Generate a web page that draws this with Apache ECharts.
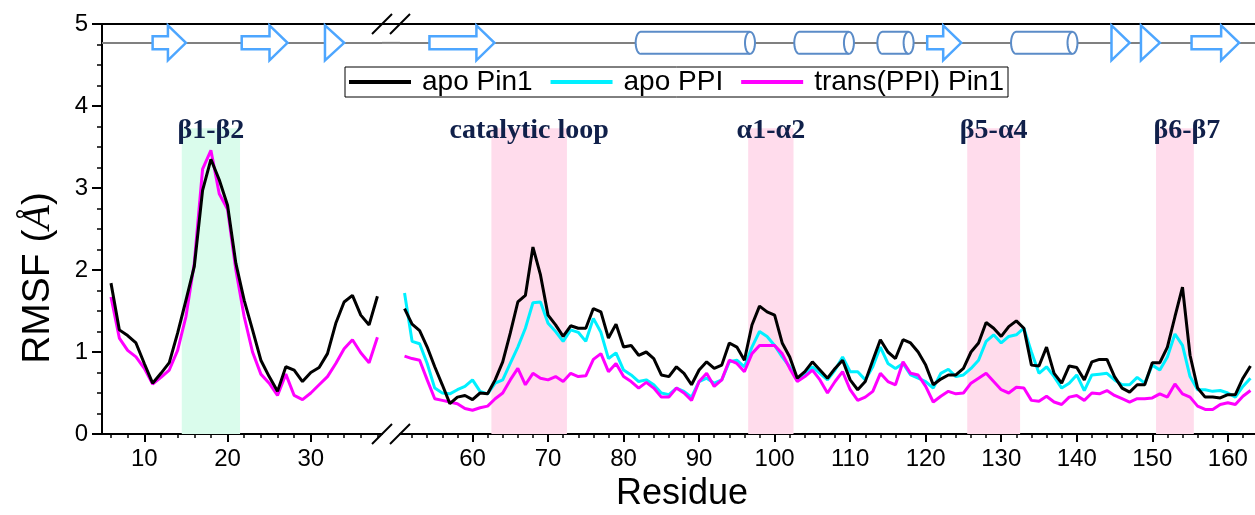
<!DOCTYPE html>
<html>
<head>
    <meta charset="utf-8">
    <title>RMSF</title>
    <script src="https://cdn.jsdelivr.net/npm/echarts@6.0.0/dist/echarts.min.js"></script>
</head>
<body style="margin: 0; background: #fff">
<div id="chart1" style="width:1255px;height:515px"></div>
<script type="text/javascript">
    // first residue of each panel (x axis is broken between them)
    var leftFirst = 6;
    var rightFirst = 51;

    // RMSF values, one per residue
    var pin1Left = [1.84, 1.27, 1.20, 1.11, 0.86, 0.62, 0.74, 0.87, 1.23, 1.63, 2.04, 2.97, 3.35, 3.10, 2.79, 2.08,
        1.63, 1.27, 0.90, 0.70, 0.52, 0.82, 0.78, 0.64, 0.75, 0.81, 0.98, 1.35, 1.61, 1.69, 1.45, 1.33, 1.68];
    var transLeft = [1.67, 1.17, 1.02, 0.94, 0.80, 0.61, 0.69, 0.78, 1.02, 1.43, 2.08, 3.23, 3.46, 2.93, 2.74, 2.00,
        1.43, 1.00, 0.73, 0.62, 0.47, 0.73, 0.47, 0.42, 0.50, 0.60, 0.70, 0.86, 1.04, 1.15, 0.99, 0.87, 1.18];

    var pin1Right = [1.53, 1.34, 1.26, 1.06, 0.82, 0.60, 0.37, 0.45, 0.47, 0.42, 0.50, 0.49, 0.66, 0.88, 1.23, 1.61,
        1.69, 2.28, 1.94, 1.45, 1.33, 1.19, 1.32, 1.29, 1.29, 1.53, 1.49, 1.17, 1.34, 1.06, 1.08, 0.96, 1.00, 0.92,
        0.72, 0.70, 0.82, 0.74, 0.60, 0.78, 0.88, 0.80, 0.84, 1.11, 1.06, 0.90, 1.33, 1.56, 1.49, 1.45, 1.11, 0.94,
        0.68, 0.76, 0.88, 0.78, 0.68, 0.80, 0.90, 0.66, 0.54, 0.64, 0.90, 1.15, 1.00, 0.92, 1.15, 1.11, 1.00, 0.84,
        0.60, 0.67, 0.72, 0.72, 0.80, 1.00, 1.11, 1.36, 1.29, 1.19, 1.31, 1.38, 1.29, 0.84, 0.83, 1.06, 0.74, 0.62,
        0.83, 0.81, 0.66, 0.88, 0.91, 0.91, 0.70, 0.56, 0.51, 0.60, 0.60, 0.87, 0.87, 1.06, 1.43, 1.79, 0.96, 0.56,
        0.45, 0.45, 0.44, 0.48, 0.48, 0.68, 0.83];
    var ppiRight = [1.72, 1.13, 1.10, 0.86, 0.56, 0.50, 0.49, 0.54, 0.58, 0.66, 0.52, 0.49, 0.62, 0.66, 0.86, 1.06,
        1.29, 1.60, 1.61, 1.35, 1.25, 1.13, 1.27, 1.24, 1.13, 1.41, 1.24, 0.92, 0.99, 0.78, 0.72, 0.64, 0.66, 0.60,
        0.50, 0.48, 0.56, 0.52, 0.45, 0.64, 0.68, 0.62, 0.66, 0.88, 0.90, 0.82, 1.06, 1.25, 1.19, 1.08, 0.94, 0.82,
        0.66, 0.72, 0.82, 0.74, 0.66, 0.78, 0.94, 0.76, 0.76, 0.66, 0.82, 1.06, 0.86, 0.80, 0.86, 0.72, 0.68, 0.64,
        0.56, 0.74, 0.79, 0.70, 0.72, 0.80, 0.90, 1.13, 1.21, 1.11, 1.19, 1.21, 1.29, 1.00, 0.74, 0.82, 0.70, 0.56,
        0.62, 0.72, 0.53, 0.72, 0.73, 0.74, 0.66, 0.60, 0.60, 0.69, 0.62, 0.84, 0.78, 0.94, 1.22, 1.08, 0.70, 0.54,
        0.54, 0.52, 0.53, 0.50, 0.45, 0.58, 0.68];
    var transRight = [0.95, 0.92, 0.90, 0.66, 0.43, 0.41, 0.39, 0.37, 0.31, 0.29, 0.32, 0.34, 0.43, 0.50, 0.66, 0.80,
        0.60, 0.74, 0.68, 0.66, 0.70, 0.64, 0.74, 0.70, 0.71, 0.91, 0.98, 0.76, 0.86, 0.70, 0.64, 0.56, 0.63, 0.56,
        0.45, 0.45, 0.56, 0.50, 0.41, 0.64, 0.74, 0.58, 0.66, 0.90, 0.86, 0.76, 0.98, 1.08, 1.08, 1.08, 0.98, 0.80,
        0.64, 0.70, 0.78, 0.66, 0.50, 0.64, 0.76, 0.54, 0.41, 0.45, 0.52, 0.74, 0.64, 0.60, 0.88, 0.74, 0.72, 0.58,
        0.39, 0.46, 0.52, 0.49, 0.50, 0.62, 0.68, 0.74, 0.64, 0.54, 0.50, 0.57, 0.56, 0.41, 0.40, 0.46, 0.39, 0.36,
        0.45, 0.47, 0.41, 0.50, 0.49, 0.53, 0.47, 0.43, 0.39, 0.43, 0.43, 0.44, 0.49, 0.45, 0.61, 0.49, 0.45, 0.34,
        0.30, 0.30, 0.36, 0.38, 0.36, 0.46, 0.53];

    // tick labels
    var leftTicks = [10, 20, 30];
    var rightTicks = [60, 70, 80, 90, 100, 110, 120, 130, 140, 150, 160];

    // highlighted regions
    var bandNames = ['β1-β2', 'catalytic loop', 'α1-α2', 'β5-α4', 'β6-β7'];
    var bandFrom = [14.5, 62.5, 96.5, 125.5, 150.5];
    var bandTo = [21.5, 72.5, 102.5, 132.5, 155.5];
    var bandTop = 3.73;

    // secondary structure: E = strand (arrow), H = helix (cylinder)
    var sseFrom = [11, 21.7, 31.7, 54.3, 81.6, 102.6, 113.6, 120.2, 131.3, 144.6, 148.5, 155.2];
    var sseTo = [15, 27.2, 34, 62.9, 97.4, 110.5, 118.4, 124.7, 140.1, 147, 151, 161.5];
    var sseKind = ['E', 'E', 'E', 'E', 'H', 'H', 'H', 'E', 'H', 'E', 'E', 'E'];
    var structY = 4.77;

    var leftMin = 4.92, leftMax = 38.55, rightMin = 50.4, rightMax = 163.6;
    var breakAt = 44;

    function pairs(first, arr) {
        return arr.map(function (v, i) { return [first + i, v]; });
    }
    function evens(a, b, skip) {
        var out = [];
        for (var v = a; v <= b; v += 2) { if (skip.indexOf(v) < 0) out.push(v); }
        return out;
    }
    function bands(left) {
        var out = [];
        for (var i = 0; i < bandNames.length; i++) {
            if ((bandTo[i] < breakAt) !== left) continue;
            out.push([{
                name: bandNames[i], xAxis: bandFrom[i], yAxis: 0,
                itemStyle: {color: i === 0 ? '#dafcec' : '#ffdcec'},
                label: {offset: [bandNames[i] === 'β6-β7' ? 12 : 0, 22]}
            }, {xAxis: bandTo[i], yAxis: bandTop}]);
        }
        return out;
    }
    function sseData(left) {
        var out = [];
        for (var i = 0; i < sseFrom.length; i++) {
            if ((sseTo[i] < breakAt) === left) out.push([sseFrom[i], sseTo[i], sseKind[i] === 'H' ? 1 : 0]);
        }
        return out;
    }

    function drawSse(params, api) {
        var p1 = api.coord([api.value(0), structY]);
        var p2 = api.coord([api.value(1), structY]);
        var x1 = p1[0], x2 = p2[0], y = p1[1];
        if (api.value(2) === 0) {
            var head = 18, pts;
            if (x2 - x1 < head + 4) {
                pts = [[x1, y - 17.5], [x2, y], [x1, y + 17.5]];
            } else {
                pts = [[x1, y - 6.5], [x2 - head, y - 6.5], [x2 - head, y - 17.5], [x2, y],
                    [x2 - head, y + 17.5], [x2 - head, y + 6.5], [x1, y + 6.5]];
            }
            return {type: 'polygon', shape: {points: pts},
                style: {fill: '#fff', stroke: '#4da6ff', lineWidth: 2.5}};
        }
        var rx = 5, ry = 11, cl = x1 + rx, cr = x2 - rx, outline = [], back = [];
        var k, t;
        for (k = 0; k <= 16; k++) {
            t = -Math.PI / 2 + Math.PI * k / 16;
            outline.push([cr + rx * Math.cos(t), y + ry * Math.sin(t)]);
        }
        for (k = 0; k <= 16; k++) {
            t = Math.PI / 2 + Math.PI * k / 16;
            outline.push([cl + rx * Math.cos(t), y + ry * Math.sin(t)]);
            back.push([cr + rx * Math.cos(t), y + ry * Math.sin(t)]);
        }
        return {type: 'group', children: [
            {type: 'polygon', shape: {points: outline}, style: {fill: '#fff', stroke: '#5b8cc8', lineWidth: 2}},
            {type: 'polyline', shape: {points: back}, style: {fill: null, stroke: '#5b8cc8', lineWidth: 2}}
        ]};
    }

    var font = 'Liberation Sans';
    var axisLine = {show: true, onZero: false, lineStyle: {color: '#000', width: 2}};

    function xAxes(grid, min, max, labels, minor) {
        return [{
            gridIndex: grid, type: 'value', position: 'bottom', min: min, max: max,
            axisLine: axisLine, splitLine: {show: false},
            axisTick: {show: true, customValues: labels, length: 8, lineStyle: {color: '#000', width: 2}},
            axisLabel: {customValues: labels, fontFamily: font, fontSize: 24, color: '#000', margin: 13}
        }, {
            gridIndex: grid, type: 'value', position: 'bottom', min: min, max: max,
            axisLine: {show: false}, splitLine: {show: false}, axisLabel: {show: false},
            axisTick: {show: true, customValues: minor, length: 4, lineStyle: {color: '#000', width: 1.5}}
        }, {
            gridIndex: grid, type: 'value', position: 'top', min: min, max: max,
            axisLine: axisLine, splitLine: {show: false}, axisTick: {show: false}, axisLabel: {show: false}
        }];
    }

    var lineBase = {type: 'line', showSymbol: false, symbol: 'none', animation: false, lineStyle: {width: 3}};
    function line(name, color, xi, yi, data, extra) {
        return Object.assign({}, lineBase, {name: name, color: color, xAxisIndex: xi, yAxisIndex: yi, data: data,
            lineStyle: {width: 3, color: color}}, extra || {});
    }
    var bandStyle = {
        silent: true,
        label: {show: true, position: 'top', distance: 5, color: '#10204a', fontFamily: 'Liberation Serif',
            fontWeight: 'bold', fontSize: 28}
    };
    var backbone = {silent: true, symbol: 'none', label: {show: false},
        lineStyle: {color: '#808080', width: 2, type: 'solid'}, data: [{yAxis: structY}]};

    var myChart1 = echarts.init(document.getElementById('chart1'), null, {renderer: 'canvas'});
    myChart1.setOption({
        animation: false,
        backgroundColor: '#fff',
        grid: [
            {left: 102, top: 24, width: 280, height: 410},
            {left: 400, top: 24, width: 855, height: 410}
        ],
        xAxis: xAxes(0, leftMin, leftMax, leftTicks, evens(6, 38, leftTicks))
            .concat(xAxes(1, rightMin, rightMax, rightTicks, evens(52, 162, rightTicks))),
        yAxis: [{
            gridIndex: 0, type: 'value', min: 0, max: 5, interval: 1,
            axisLine: axisLine, splitLine: {show: false},
            axisTick: {show: true, length: 10, lineStyle: {color: '#000', width: 2}},
            minorTick: {show: true, splitNumber: 4, length: 5, lineStyle: {color: '#000', width: 1.5}},
            axisLabel: {fontFamily: font, fontSize: 24, color: '#000', margin: 14}
        }, {
            gridIndex: 1, type: 'value', min: 0, max: 5, interval: 1, show: false
        }],
        legend: {
            data: ['apo Pin1', 'apo PPI', 'trans(PPI) Pin1'],
            left: 345, top: 67, padding: [1, 4], itemGap: 18,
            borderColor: '#000', borderWidth: 1,
            icon: 'rect', itemWidth: 62, itemHeight: 4,
            textStyle: {fontFamily: font, fontSize: 28, color: '#000', padding: [0, 0, 0, 6]}
        },
        series: [
            line('trans(PPI) Pin1', '#ff00ff', 0, 0, pairs(leftFirst, transLeft),
                {markArea: Object.assign({data: bands(true)}, bandStyle)}),
            line('apo Pin1', '#000000', 0, 0, pairs(leftFirst, pin1Left), {markLine: backbone}),
            line('apo PPI', '#00f0ff', 3, 1, pairs(rightFirst, ppiRight)),
            line('trans(PPI) Pin1', '#ff00ff', 3, 1, pairs(rightFirst, transRight),
                {markArea: Object.assign({data: bands(false)}, bandStyle)}),
            line('apo Pin1', '#000000', 3, 1, pairs(rightFirst, pin1Right), {markLine: backbone}),
            {type: 'custom', xAxisIndex: 0, yAxisIndex: 0, z: 10, silent: true, clip: false,
                encode: {x: [0, 1]}, renderItem: drawSse, data: sseData(true)},
            {type: 'custom', xAxisIndex: 3, yAxisIndex: 1, z: 10, silent: true, clip: false,
                encode: {x: [0, 1]}, renderItem: drawSse, data: sseData(false)}
        ]
    });

    // axis-break slashes, bridges across the break, and axis titles
    var gL = myChart1.convertToPixel({xAxisIndex: 0, yAxisIndex: 0}, [leftMax, 0]);
    var gLt = myChart1.convertToPixel({xAxisIndex: 0, yAxisIndex: 0}, [leftMax, 5]);
    var gLs = myChart1.convertToPixel({xAxisIndex: 0, yAxisIndex: 0}, [leftMax, structY]);
    var gR = myChart1.convertToPixel({xAxisIndex: 3, yAxisIndex: 1}, [rightMin, 0]);
    var extras = [
        {type: 'line', shape: {x1: gL[0], y1: gLs[1], x2: gR[0], y2: gLs[1]},
            style: {stroke: '#808080', lineWidth: 2}, z: 5},
        {type: 'line', shape: {x1: gL[0], y1: gLt[1], x2: gR[0], y2: gLt[1]},
            style: {stroke: '#000', lineWidth: 2}, z: 5}
    ];
    [gL[0], gR[0]].forEach(function (x) {
        [gL[1], gLt[1]].forEach(function (y) {
            extras.push({type: 'line', shape: {x1: x - 10, y1: y + 10, x2: x + 10, y2: y - 10},
                style: {stroke: '#000', lineWidth: 2}, z: 20});
        });
    });
    myChart1.setOption({
        graphic: extras.concat([{
            type: 'text', x: 38, y: 278, rotation: Math.PI / 2,
            style: {
                text: '{a|RMSF (}{b|Å}{a|)}', align: 'center', verticalAlign: 'middle',
                rich: {
                    a: {fontFamily: font, fontSize: 39, fill: '#000'},
                    b: {fontFamily: 'Liberation Serif', fontStyle: 'italic', fontSize: 40, fill: '#000'}
                }
            }
        }, {
            type: 'text', x: 682, y: 494,
            style: {text: 'Residue', fontFamily: font, fontSize: 36, fill: '#000', align: 'center', verticalAlign: 'middle'}
        }])
    });
</script>
</body>
</html>
